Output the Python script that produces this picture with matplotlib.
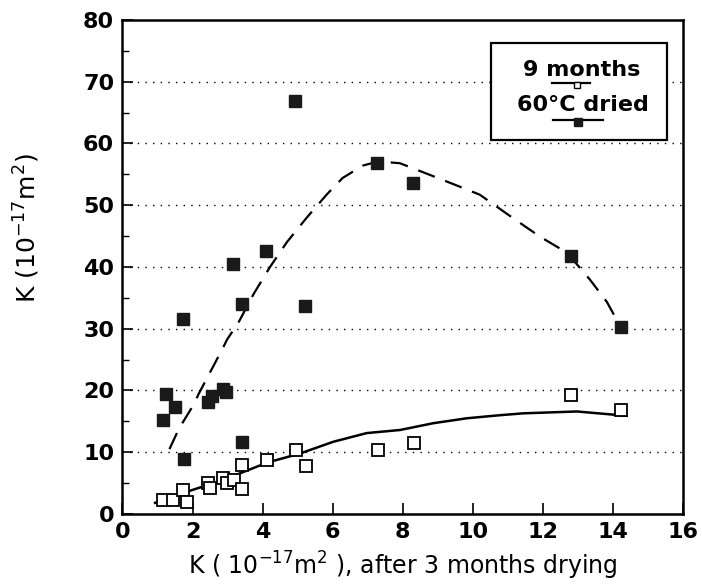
import matplotlib
matplotlib.use("Agg")
import matplotlib.pyplot as plt
from matplotlib.lines import Line2D
from matplotlib.patches import Rectangle
from matplotlib.ticker import MultipleLocator

plt.rcParams["font.family"] = ["DejaVu Sans"]
plt.rcParams["mathtext.default"] = "regular"

# permeability after 3 months drying (x) vs after 9 months / 60 C drying (y)
k3_months = [1.17, 1.45, 1.72, 1.83, 2.45, 2.50, 2.88, 2.97, 3.19, 3.40, 3.40,
             4.12, 4.94, 5.23, 7.28, 8.33, 12.8, 14.23]
k9_months = [2.3, 2.3, 3.9, 2.0, 5.0, 4.2, 5.8, 5.0, 5.5, 7.9, 4.0,
             8.7, 10.4, 7.7, 10.4, 11.5, 19.3, 16.8]

k3_dried = [1.16, 1.24, 1.50, 1.72, 1.76, 2.44, 2.55, 2.87, 2.95, 3.14, 3.40,
            3.40, 4.11, 4.91, 5.21, 7.26, 8.30, 12.8, 14.23]
k60_dried = [15.2, 19.5, 17.3, 31.5, 8.9, 18.1, 19.1, 20.2, 19.8, 40.5, 34.0,
             11.7, 42.6, 66.9, 33.7, 56.9, 53.6, 41.8, 30.3]

# hand-drawn trend curves
trend9_x = [0.93, 1.73, 2.87, 4.12, 5.07, 6.02, 6.97, 7.92, 8.87, 9.83,
            10.78, 11.44, 12.97, 14.39]
trend9_y = [1.8, 3.4, 5.5, 8.3, 9.8, 11.7, 13.1, 13.6, 14.7, 15.5,
            16.0, 16.3, 16.6, 15.9]

trend60_x = [1.34, 1.61, 2.04, 2.17, 2.85, 2.99, 3.31, 3.74, 4.21, 4.69,
             5.26, 5.84, 6.28, 6.85, 7.30, 7.92, 8.78, 9.63, 10.2, 11.15,
             11.92, 12.69, 13.35, 13.83, 14.11]
trend60_y = [10.5, 13.8, 17.8, 19.4, 26.7, 28.3, 31.0, 35.6, 40.0, 44.0,
             48.0, 51.8, 54.4, 56.4, 57.1, 56.8, 54.9, 53.0, 51.7, 47.9,
             44.9, 42.3, 37.9, 34.3, 31.4]

fig = plt.figure(figsize=(7.02, 5.86), dpi=100)
ax = fig.add_axes([0.1745, 0.1229, 0.7985, 0.843])

ax.plot(trend9_x, trend9_y, color="black", linewidth=1.8)
ax.plot(trend60_x, trend60_y, color="black", linewidth=1.6,
        linestyle=(0, (8, 5)))

ax.plot(k3_months, k9_months, linestyle="none", marker="s", markersize=9,
        markerfacecolor="white", markeredgecolor="black", markeredgewidth=1.3)
ax.plot(k3_dried, k60_dried, linestyle="none", marker="s", markersize=8.5,
        markerfacecolor="#1a1a1a", markeredgecolor="#1a1a1a")

ax.set_xlim(0, 16)
ax.set_ylim(0, 80)
ax.xaxis.set_major_locator(MultipleLocator(2))
ax.yaxis.set_major_locator(MultipleLocator(10))
ax.yaxis.set_minor_locator(MultipleLocator(5))

ax.grid(axis="y", color="black", linestyle=(0, (1, 4.5)), linewidth=1.0)
ax.tick_params(direction="in", length=8, width=1.2, labelsize=16, pad=6)
ax.tick_params(which="minor", direction="in", length=5, width=1)
for lab in ax.get_xticklabels() + ax.get_yticklabels():
    lab.set_fontweight("bold")
for s in ax.spines.values():
    s.set_linewidth(1.8)

ax.set_xlabel("K ( 10$^{-17}$m$^2$ ), after 3 months drying", fontsize=17)
ax.xaxis.set_label_coords(0.5, -0.072)
ax.set_ylabel("K (10$^{-17}$m$^2$)", fontsize=18)
ax.yaxis.set_label_coords(-0.143, 0.579)

# key box in the upper right
ax.add_patch(Rectangle((0.657, 0.757), 0.314, 0.196, transform=ax.transAxes,
                       facecolor="white", edgecolor="black", linewidth=1.6,
                       zorder=4))
ax.text(0.820, 0.898, "9 months", transform=ax.transAxes, ha="center",
        va="center", fontsize=16, fontweight="bold", zorder=5)
ax.text(0.822, 0.828, "60\u00b0C dried", transform=ax.transAxes, ha="center",
        va="center", fontsize=16, fontweight="bold", zorder=5)
ax.add_line(Line2D([0.766, 0.834], [0.872, 0.872], transform=ax.transAxes,
                   color="black", linewidth=1.6, zorder=6))
ax.add_line(Line2D([0.811], [0.868], transform=ax.transAxes, linestyle="none",
                   marker="s", markersize=5, markerfacecolor="white",
                   markeredgecolor="black", zorder=7))
ax.add_line(Line2D([0.768, 0.857], [0.798, 0.798], transform=ax.transAxes,
                   color="black", linewidth=1.6, zorder=6))
ax.add_line(Line2D([0.813], [0.794], transform=ax.transAxes, linestyle="none",
                   marker="s", markersize=6, color="#1a1a1a", zorder=7))

fig.savefig("out.png", dpi=100)
